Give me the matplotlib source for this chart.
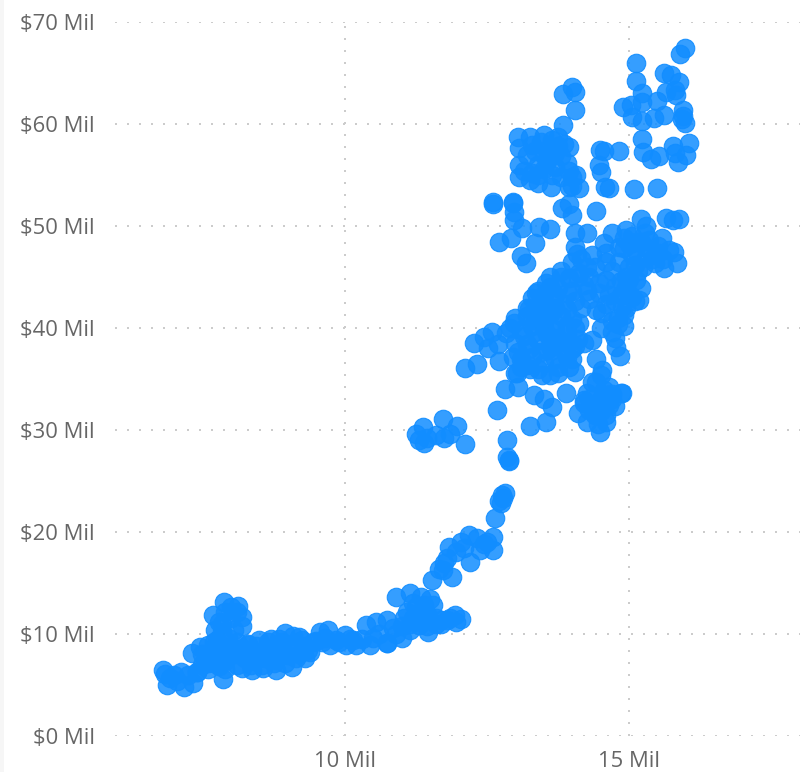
#!/usr/bin/env python3
import numpy as np
import matplotlib as mpl
import matplotlib.pyplot as plt

plt.rcParams['font.family'] = ['Open Sans', 'DejaVu Sans']

## Values, in millions, one pair of lists per region
tail_x = [6.81, 6.88, 7.18, 7.33, 7.12, 6.93, 7.86, 7.32, 7.68, 7.88, 8.12, 8.2, 8.2, 7.72, 7.0, 7.25, 7.4, 7.46, 7.55,
          7.6, 7.7, 7.8, 7.9, 8.0, 8.1, 7.75, 7.85, 7.95, 8.05, 7.8, 7.9, 8.0, 8.1, 7.7, 7.85, 8.0,
          7.5, 7.65, 7.8, 7.95, 8.1, 7.6, 7.75, 7.9, 6.85, 7.05]
tail_y = [6.47, 5.0, 4.8, 5.2, 6.3, 5.7, 5.6, 8.1, 11.9, 13.1, 12.7, 11.7, 10.8, 10.4, 6.0, 6.0, 6.3, 8.7, 7.5,
          8.9, 7.2, 8.2, 7.4, 8.6, 8.0, 9.4, 10.2, 9.6, 10.4, 11.2, 12.2, 11.6, 12.2, 9.2, 11.0, 12.6,
          7.0, 7.8, 9.0, 7.9, 9.2, 6.6, 8.4, 6.6, 6.1, 5.4]
band_x = [7.4, 7.5, 7.6, 7.7, 7.8, 7.9, 8.0, 8.1, 8.2, 8.3, 8.37, 8.45, 8.56, 8.65, 8.8, 8.9, 8.95, 9.07, 9.2, 9.3, 9.39,
          9.56, 9.7, 9.74, 10.0, 10.03, 10.2, 10.38, 10.44, 10.55, 10.75, 10.75, 8.2, 8.3, 8.4, 8.5, 8.6, 8.7, 8.8,
          8.9, 9.0, 9.1, 9.2, 9.3, 9.45, 8.25, 8.45, 8.65, 8.85, 9.05, 9.25, 9.5, 9.85, 10.15, 10.6,
          8.35, 8.55, 8.75, 8.95, 9.15, 9.35, 8.3, 8.5, 8.7, 8.9, 9.1, 9.6, 9.9, 10.1, 10.3, 10.5, 9.65]
band_y = [6.3, 8.0, 7.2, 8.6, 6.9, 7.6, 8.8, 7.0, 6.7, 8.0, 6.5, 7.6, 6.7, 9.2, 6.5, 8.0, 10.1, 6.8, 9.7, 7.6, 8.2,
          10.2, 10.4, 8.9, 9.9, 8.9, 8.9, 10.9, 8.9, 11.2, 11.4, 9.1, 8.6, 9.0, 7.4, 8.2, 7.6, 8.6, 7.5,
          9.2, 7.9, 9.0, 8.0, 8.8, 9.2, 7.6, 8.8, 8.0, 9.5, 8.6, 9.4, 9.3, 9.4, 9.4, 10.0,
          7.0, 7.0, 7.2, 7.2, 7.6, 8.4, 8.9, 9.4, 9.5, 8.4, 9.8, 9.2, 9.2, 9.5, 9.5, 9.6, 9.6]
rise_x = [10.9, 11.14, 11.54, 11.88, 11.72, 11.8, 11.84, 12.05, 12.18, 12.2, 12.33, 12.6, 12.6, 12.37, 12.5, 12.05, 11.93,
          11.46, 10.75, 11.14, 11.0, 11.3, 11.6, 11.2, 11.4, 11.7, 11.85, 10.9, 11.05, 11.25, 11.5, 11.7, 11.35, 11.45,
          11.95, 12.1, 12.65, 12.75, 12.78, 12.81, 12.86, 12.86, 12.89,
          10.85, 11.0, 11.15, 11.3, 11.45, 11.6, 11.8, 11.1, 11.25, 11.4, 11.55, 11.2, 11.65, 11.75, 11.95, 12.45,
          12.72, 12.76, 12.88]
rise_y = [13.6, 14.0, 15.3, 15.6, 16.3, 17.5, 18.5, 19.0, 19.7, 17.1, 19.4, 19.5, 18.2, 18.2, 19.0, 11.5, 11.9,
          10.2, 9.1, 10.4, 10.8, 10.9, 11.0, 11.6, 12.4, 11.4, 11.6, 10.0, 11.6, 12.6, 13.4, 11.0, 13.6, 12.0,
          11.2, 18.4, 21.4, 22.8, 23.3, 23.8, 29.0, 27.4, 27.0,
          10.6, 9.6, 11.0, 11.3, 10.8, 11.6, 11.4, 12.2, 12.0, 12.8, 12.8, 13.0, 16.4, 17.0, 18.0, 18.8,
          23.0, 23.6, 27.1]
island_x = [11.26, 11.37, 11.4, 11.72, 11.98, 12.12, 11.75, 11.6, 11.3, 11.45, 11.85]
island_y = [29.6, 30.3, 28.7, 31.1, 30.4, 28.6, 29.2, 29.5, 29.0, 29.2, 29.6]
lower_x = [12.68, 12.81, 13.05, 13.26, 13.53, 13.33, 13.5, 13.65, 13.89, 12.12, 12.32, 13.0, 14.49, 14.1, 14.26, 14.86,
           14.25, 14.42, 14.51, 14.65, 14.65, 14.4, 14.7, 14.5, 14.35, 14.55, 14.2, 14.3, 14.75, 14.45, 14.6, 14.53,
           14.42, 14.35, 14.21, 14.88, 14.6, 14.3, 14.4, 14.6, 14.7, 14.5]
lower_y = [32.0, 34.0, 34.2, 30.4, 30.8, 33.4, 33.0, 32.3, 33.6, 36.1, 36.5, 35.6, 29.8, 31.7, 30.8, 33.6,
           33.6, 34.7, 35.4, 34.2, 32.5, 31.5, 33.0, 33.0, 32.2, 33.9, 32.6, 32.0, 32.4, 30.6, 31.5, 35.9,
           37.0, 34.7, 32.9, 33.6, 30.8, 33.0, 32.5, 33.4, 33.5, 31.9]
mid_x = [12.58, 12.45, 12.28, 12.51, 12.84, 12.98, 12.72, 13.02, 13.46, 13.6, 13.75, 14.04, 13.25, 13.1, 13.3, 13.5, 13.7,
         13.9, 13.0, 13.2, 13.4, 13.6, 13.8, 14.0, 12.9, 13.1, 13.3, 13.5, 13.7, 13.9, 14.1, 13.0, 13.2, 13.4, 13.6, 13.8,
         14.0, 13.23, 13.3, 13.37, 13.53, 13.75, 13.95, 14.12, 14.25, 13.45, 13.65, 13.85, 14.05, 13.4, 13.6, 13.8,
         14.0, 14.2, 14.05, 14.21, 14.35, 14.12, 14.05, 14.0, 13.2, 13.6,
         12.7, 13.05, 13.15, 13.35, 13.55, 13.75, 13.95, 13.2, 13.4, 13.55, 13.75, 13.95, 12.95, 13.1, 13.3, 13.5, 13.7,
         13.9, 13.35, 13.55, 13.7, 13.9, 13.25, 13.45, 13.65, 13.85, 14.15, 14.3, 13.5, 13.7, 13.9, 14.1, 13.6, 13.8]
mid_y = [39.6, 39.1, 38.5, 38.0, 39.5, 40.5, 36.8, 35.6, 35.4, 35.4, 35.6, 35.7, 36.0, 37.0, 37.2, 36.6, 37.0,
         37.2, 38.5, 38.4, 38.8, 38.2, 38.6, 37.9, 40.0, 39.8, 40.2, 40.0, 39.8, 39.4, 38.9, 41.0, 41.2, 41.0, 41.4, 41.2,
         40.9, 41.9, 42.9, 43.4, 44.4, 43.9, 44.9, 45.4, 46.0, 42.4, 42.8, 42.4, 42.6, 43.6, 44.0, 45.0,
         43.6, 44.2, 38.2, 38.5, 38.8, 40.5, 40.0, 37.0, 42.0, 39.0,
         38.4, 37.6, 39.2, 39.6, 39.4, 39.0, 38.6, 36.4, 36.0, 37.8, 36.2, 36.2, 37.2, 36.2, 40.8, 40.6, 40.4,
         40.2, 42.0, 42.0, 42.0, 41.8, 38.0, 37.6, 37.8, 37.8, 42.0, 42.8, 43.2, 43.2, 43.4, 45.0, 45.0, 45.6]
upper_x = [12.6, 12.95, 12.98, 12.98, 12.72, 12.93, 13.12, 13.35, 13.42, 13.6, 13.1, 13.19, 13.82, 14.0, 13.95, 14.42,
           14.04, 14.26, 14.04, 14.08, 14.0, 14.7, 14.95, 15.21, 15.65, 15.88, 15.76, 15.3, 15.58, 15.79, 15.84, 15.61,
           14.56, 14.35, 14.6, 14.82, 15.04, 15.28, 15.33, 15.04, 14.82, 14.6, 14.47, 14.6, 14.75, 14.95, 15.12, 15.21,
           15.18, 15.0, 14.88, 14.91, 14.7, 14.77, 14.84, 14.7, 14.53, 14.42, 14.6, 14.47, 14.85, 15.1, 15.4, 15.5, 15.2,
           14.3, 14.25, 14.9, 15.05, 15.45, 14.7, 15.0, 15.25, 14.8,
           15.0, 15.15, 15.35, 15.5, 15.7, 14.9, 15.1, 15.3, 15.45, 15.6, 14.85, 15.0, 15.15, 14.75, 14.95, 15.05,
           14.65, 14.8, 14.9, 14.5, 14.75, 14.95, 15.1, 14.15, 14.4]
upper_y = [52.2, 52.3, 51.4, 50.6, 48.4, 48.8, 49.8, 48.3, 49.9, 49.7, 47.1, 46.4, 51.8, 51.1, 52.2, 51.5,
           49.3, 49.3, 47.9, 47.3, 46.5, 49.3, 49.6, 50.7, 50.8, 50.7, 50.6, 50.0, 48.8, 47.5, 46.4, 45.9,
           48.3, 47.2, 47.4, 47.9, 49.0, 49.3, 47.7, 47.2, 46.5, 46.5, 44.4, 44.7, 44.0, 45.0, 44.7, 43.9,
           42.7, 43.2, 42.1, 41.3, 39.6, 38.1, 37.3, 40.7, 41.5, 41.8, 42.4, 43.4, 43.2, 46.2, 46.8, 48.0, 48.4,
           45.0, 43.6, 47.8, 48.3, 47.2, 45.6, 46.0, 46.0, 40.4,
           48.2, 48.4, 48.6, 47.4, 47.6, 48.8, 47.6, 47.0, 46.4, 46.8, 44.6, 44.8, 45.6, 42.6, 42.0, 43.0,
           43.2, 41.0, 40.2, 40.0, 39.0, 44.0, 42.6, 46.8, 46.0]
block_x = [13.04, 13.25, 13.51, 13.07, 13.74, 13.95, 13.07, 13.07, 13.25, 13.39, 13.63, 13.95, 14.12, 14.07, 13.3, 13.45,
           13.55, 13.65, 13.75, 13.85, 13.2, 13.35, 13.5, 13.6, 13.7, 13.8, 13.4, 13.55, 13.7, 13.9, 14.0, 13.3, 13.15,
           13.4, 13.5, 13.65, 13.8, 13.95, 14.0, 13.84, 14.0, 14.04, 14.05, 13.84, 12.6, 12.95]
block_y = [58.7, 58.7, 58.9, 57.6, 58.7, 57.7, 56.0, 54.8, 54.5, 54.2, 53.8, 53.8, 53.7, 55.0, 57.9, 58.2,
           57.5, 58.4, 57.8, 58.0, 57.0, 57.4, 57.0, 56.8, 57.2, 56.9, 56.0, 56.4, 55.8, 56.2, 54.8, 55.2, 55.4,
           55.0, 55.6, 55.0, 54.8, 55.4, 53.9, 62.9, 63.6, 63.1, 61.4, 59.9, 52.4, 52.4]
top_x = [15.98, 15.89, 15.12, 15.12, 15.61, 15.74, 15.88, 15.8, 15.65, 15.82, 15.23, 15.23, 15.49, 14.89, 15.03, 15.05,
         15.23, 15.44, 15.61, 15.95, 15.95, 15.98, 15.93, 15.23, 15.25, 15.39, 15.53, 15.77, 16.05, 16.0, 15.86, 15.8,
         14.82, 14.49, 14.55, 14.47, 14.51, 14.58, 14.65, 15.09, 15.49]
top_y = [67.5, 66.9, 66.0, 64.2, 65.0, 64.8, 64.1, 63.3, 63.1, 62.8, 63.0, 62.2, 62.3, 61.7, 61.9, 60.7,
         60.3, 60.6, 60.9, 61.4, 60.8, 60.1, 60.5, 58.5, 57.3, 56.6, 56.9, 57.8, 58.1, 57.0, 56.3, 57.2,
         57.4, 57.5, 57.4, 56.0, 55.3, 53.8, 53.7, 53.6, 53.7]

xticks = [10, 15]
xlabels = ['10 Mil', '15 Mil']
yticks = [0, 10, 20, 30, 40, 50, 60, 70]
ylabels = ['$0 Mil', '$10 Mil', '$20 Mil', '$30 Mil', '$40 Mil', '$50 Mil', '$60 Mil', '$70 Mil']

xs = tail_x + band_x + rise_x + island_x + lower_x + mid_x + upper_x + block_x + top_x
ys = tail_y + band_y + rise_y + island_y + lower_y + mid_y + upper_y + block_y + top_y

W, H = 800, 772
fig = plt.figure(figsize=(W/100, H/100), dpi=100)
ax = fig.add_axes([115/W, (H-736)/H, (W-115)/W, 714/H])
ax.set_xlim(5.965, 18.0)
ax.set_ylim(0, 70)

for s in ax.spines.values():
    s.set_visible(False)

ax.set_xticks(xticks, xlabels)
ax.set_yticks(yticks, [lab.replace('$', r'\$') for lab in ylabels])
ax.tick_params(axis='x', length=0, pad=11, labelsize=15.8, labelcolor='#666666')
ax.tick_params(axis='y', length=0, pad=14.5, labelsize=15.8, labelcolor='#666666')
ax.grid(True, color='#cccccc', linewidth=1.44, linestyle=(0, (1, 5)), dash_capstyle='butt')
ax.set_axisbelow(True)

ax.scatter(xs, ys, s=178, facecolor=mpl.colors.to_rgba('#118DFF', .85),
           edgecolor=mpl.colors.to_rgba('#118DFF', .9), linewidth=.8, clip_on=False, zorder=3)

fig.add_artist(plt.Rectangle((0, 0), 4/W, 1, transform=fig.transFigure, color='#f6f6f6', lw=0))

fig.savefig('out.png', dpi=100)
